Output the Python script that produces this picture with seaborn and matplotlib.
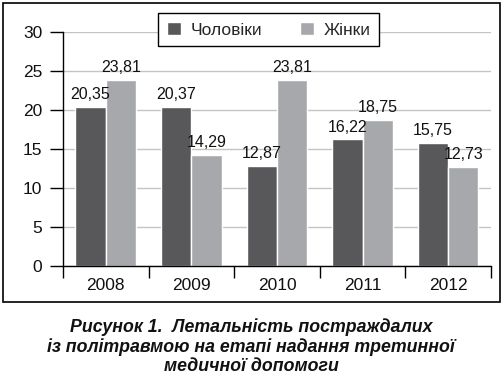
import matplotlib
matplotlib.use("Agg")
import matplotlib.pyplot as plt
import seaborn as sns
import pandas as pd
from matplotlib.patches import Rectangle
from matplotlib.ticker import MultipleLocator

years = ["2008", "2009", "2010", "2011", "2012"]
men = [20.35, 20.37, 12.87, 16.22, 15.75]
women = [23.81, 14.29, 23.81, 18.75, 12.73]
series_names = ["Чоловіки", "Жінки"]
caption = ("Рисунок 1.  Летальність постраждалих\n"
           "із політравмою на етапі надання третинної\n"
           "медичної допомоги")

dark = "#58585b"
light = "#a7a8ab"

df = pd.DataFrame({
    "year": years * 2,
    "value": men + women,
    "sex": [series_names[0]] * len(years) + [series_names[1]] * len(years),
})

sns.set_style("white")
plt.rcParams["font.family"] = ["Liberation Sans", "DejaVu Sans"]

fig = plt.figure(figsize=(5.04, 3.78), dpi=100)
ax = fig.add_axes([0.125, 0.2963, 0.849, 0.619])

sns.barplot(data=df, x="year", y="value", hue="sex",
            palette=[dark, light], saturation=1, width=0.71,
            ax=ax, zorder=2)

for cont in ax.containers:
    labels = [f"{b.get_height():.2f}".replace(".", ",") for b in cont]
    ax.bar_label(cont, labels=labels, padding=3.5, fontsize=11.5,
                 color="#111111")

ax.set_ylim(0, 30)
ax.set_xlim(-0.5, 4.5)
ax.yaxis.set_major_locator(MultipleLocator(5))
ax.set_xticks(range(len(years)))
ax.set_xticks([i - 0.5 for i in range(len(years) + 1)], minor=True)
ax.grid(axis="y", color="#c4c4c4", lw=1, zorder=0)
ax.set_axisbelow(True)
ax.set_xlabel("")
ax.set_ylabel("")

for s in ["top", "right"]:
    ax.spines[s].set_visible(False)
for s in ["left", "bottom"]:
    ax.spines[s].set_color("black")
    ax.spines[s].set_linewidth(1)

ax.tick_params(axis="y", which="major", direction="out", length=9.4,
               width=1, color="black", pad=5.5, labelsize=12.5,
               labelcolor="#111111", left=True)
ax.tick_params(axis="x", which="major", length=0, pad=9, labelsize=12.5,
               labelcolor="#111111")
ax.tick_params(axis="x", which="minor", direction="out", length=8.6,
               width=1, color="black", bottom=True)

leg = ax.legend(loc="center", bbox_to_anchor=(0.533, 0.921),
                bbox_transform=fig.transFigure, ncol=2, fontsize=12.5,
                frameon=True, fancybox=False, edgecolor="black",
                framealpha=1, handlelength=0.8, handleheight=0.8,
                handletextpad=0.55, columnspacing=2.2, borderpad=0.5)
leg.get_frame().set_linewidth(1)

fig.patches.append(Rectangle((0.006, 0.201), 0.986, 0.791, fill=False,
                             lw=1.2, edgecolor="black",
                             transform=fig.transFigure, figure=fig))

fig.text(0.498, 0.082, caption, ha="center", va="center",
         fontsize=12.8, fontweight="bold", fontstyle="italic",
         linespacing=1.15, color="#111111")

fig.savefig("out.png", dpi=100)
